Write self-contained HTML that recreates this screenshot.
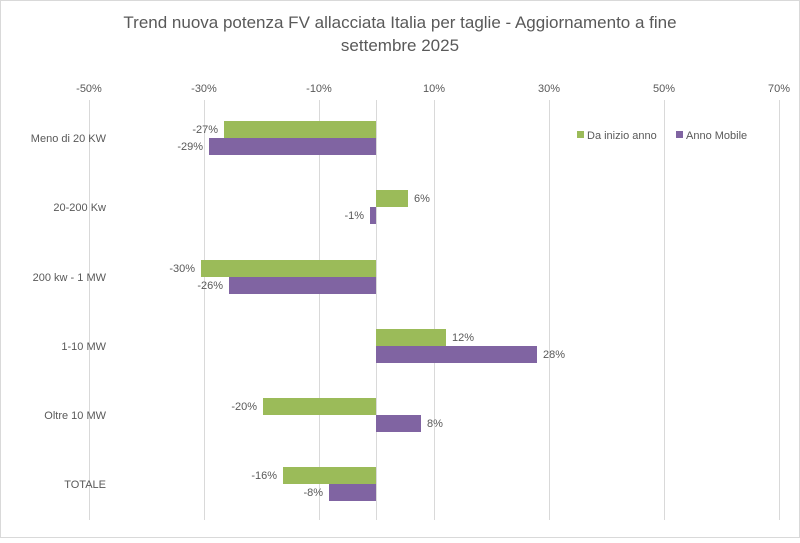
<!DOCTYPE html>
<html><head><meta charset="utf-8"><style>
body{margin:0;background:#fff}
svg text{font-family:"Liberation Sans",Calibri,sans-serif;fill:#595959}
</style></head><body>
<svg width="800" height="538" xmlns="http://www.w3.org/2000/svg">
<rect x="0.5" y="0.5" width="799" height="537" fill="#fff" stroke="#d9d9d9"/>
<text x="400" y="28" font-size="17" text-anchor="middle">Trend nuova potenza FV allacciata Italia per taglie - Aggiornamento a fine</text>
<text x="400" y="51" font-size="17" text-anchor="middle">settembre 2025</text>
<g stroke="#d9d9d9" stroke-width="1">
<line x1="89.5" y1="100" x2="89.5" y2="520"/>
<line x1="204.5" y1="100" x2="204.5" y2="520"/>
<line x1="319.5" y1="100" x2="319.5" y2="520"/>
<line x1="434.5" y1="100" x2="434.5" y2="520"/>
<line x1="549.5" y1="100" x2="549.5" y2="520"/>
<line x1="664.5" y1="100" x2="664.5" y2="520"/>
<line x1="779.5" y1="100" x2="779.5" y2="520"/>
<line x1="376.5" y1="100" x2="376.5" y2="520"/>
</g>
<g font-size="11" text-anchor="middle">
<text x="89" y="92">-50%</text><text x="204" y="92">-30%</text><text x="319" y="92">-10%</text>
<text x="434" y="92">10%</text><text x="549" y="92">30%</text><text x="664" y="92">50%</text><text x="779" y="92">70%</text>
</g>
<g font-size="11" text-anchor="end">
<text x="106" y="142">Meno di 20 KW</text>
<text x="106" y="211">20-200 Kw</text>
<text x="106" y="281">200 kw - 1 MW</text>
<text x="106" y="350">1-10 MW</text>
<text x="106" y="419">Oltre 10 MW</text>
<text x="106" y="488">TOTALE</text>
</g>
<g fill="#9bbb59">
<rect x="224" y="121" width="152" height="17"/>
<rect x="376" y="190" width="32" height="17"/>
<rect x="201" y="260" width="175" height="17"/>
<rect x="376" y="329" width="70" height="17"/>
<rect x="263" y="398" width="113" height="17"/>
<rect x="283" y="467" width="93" height="17"/>
</g>
<g fill="#8064a2">
<rect x="209" y="138" width="167" height="17"/>
<rect x="370" y="207" width="6" height="17"/>
<rect x="229" y="277" width="147" height="17"/>
<rect x="376" y="346" width="161" height="17"/>
<rect x="376" y="415" width="45" height="17"/>
<rect x="329" y="484" width="47" height="17"/>
</g>
<g font-size="11">
<text x="218" y="133" text-anchor="end">-27%</text>
<text x="203" y="150" text-anchor="end">-29%</text>
<text x="414" y="202">6%</text>
<text x="364" y="219" text-anchor="end">-1%</text>
<text x="195" y="272" text-anchor="end">-30%</text>
<text x="223" y="289" text-anchor="end">-26%</text>
<text x="452" y="341">12%</text>
<text x="543" y="358">28%</text>
<text x="257" y="410" text-anchor="end">-20%</text>
<text x="427" y="427">8%</text>
<text x="277" y="479" text-anchor="end">-16%</text>
<text x="323" y="496" text-anchor="end">-8%</text>
</g>
<rect x="577" y="131" width="7" height="7" fill="#9bbb59"/>
<text x="587" y="139" font-size="11">Da inizio anno</text>
<rect x="676" y="131" width="7" height="7" fill="#8064a2"/>
<text x="686" y="139" font-size="11">Anno Mobile</text>
</svg>
</body></html>
